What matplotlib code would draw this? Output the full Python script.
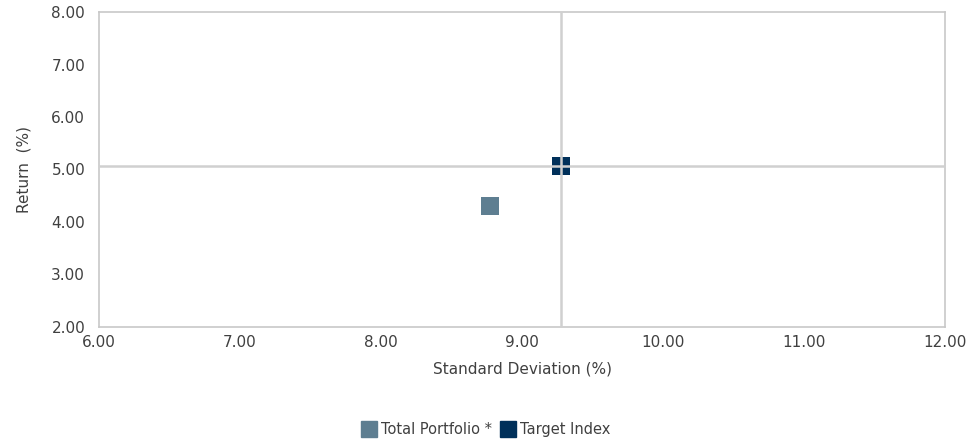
import matplotlib.pyplot as plt
from matplotlib.lines import Line2D

# risk / return data
series_names = ["Total Portfolio *", "Target Index"]
std_dev = [8.77, 9.28]
returns = [4.30, 5.06]
colors = ["#5E7E91", "#00305A"]

plt.rcParams["font.family"] = ["DejaVu Sans"]

fig = plt.figure(figsize=(9.72, 4.43), dpi=100)
ax = fig.add_axes([0.1019, 0.2619, 0.8703, 0.711])

for x, y, c in zip(std_dev, returns, colors):
    ax.scatter(x, y, marker="s", s=170, color=c, zorder=2, linewidths=0)

# crosshair through the target index (drawn over the markers)
ax.axvline(std_dev[1], color="#D0D0D0", lw=1.8, zorder=3)
ax.axhline(returns[1], color="#D0D0D0", lw=1.8, zorder=3)

ax.set_xlim(6, 12)
ax.set_ylim(2, 8)
ax.set_xticks(range(6, 13))
ax.set_yticks(range(2, 9))
ax.xaxis.set_major_formatter(lambda v, p: f"{v:.2f}")
ax.yaxis.set_major_formatter(lambda v, p: f"{v:.2f}")

for s in ax.spines.values():
    s.set_color("#C8C8C8")
    s.set_linewidth(1.2)
ax.tick_params(length=0, labelsize=11, colors="#404040", pad=6)
ax.tick_params(axis="y", pad=10)

ax.set_xlabel("Standard Deviation (%)", fontsize=11, color="#404040", labelpad=8)
ax.set_ylabel("Return  (%)", fontsize=11, color="#404040", labelpad=14)

handles = [Line2D([], [], marker="s", linestyle="none", color=c, markersize=11)
           for c in colors]
leg = fig.legend(handles, series_names, loc="center", bbox_to_anchor=(0.5, 0.03),
                 ncol=2, frameon=False, fontsize=10.5, handletextpad=0.3,
                 columnspacing=0.6, handlelength=1.0)
for t in leg.get_texts():
    t.set_color("#404040")

fig.savefig("out.png", dpi=100)
